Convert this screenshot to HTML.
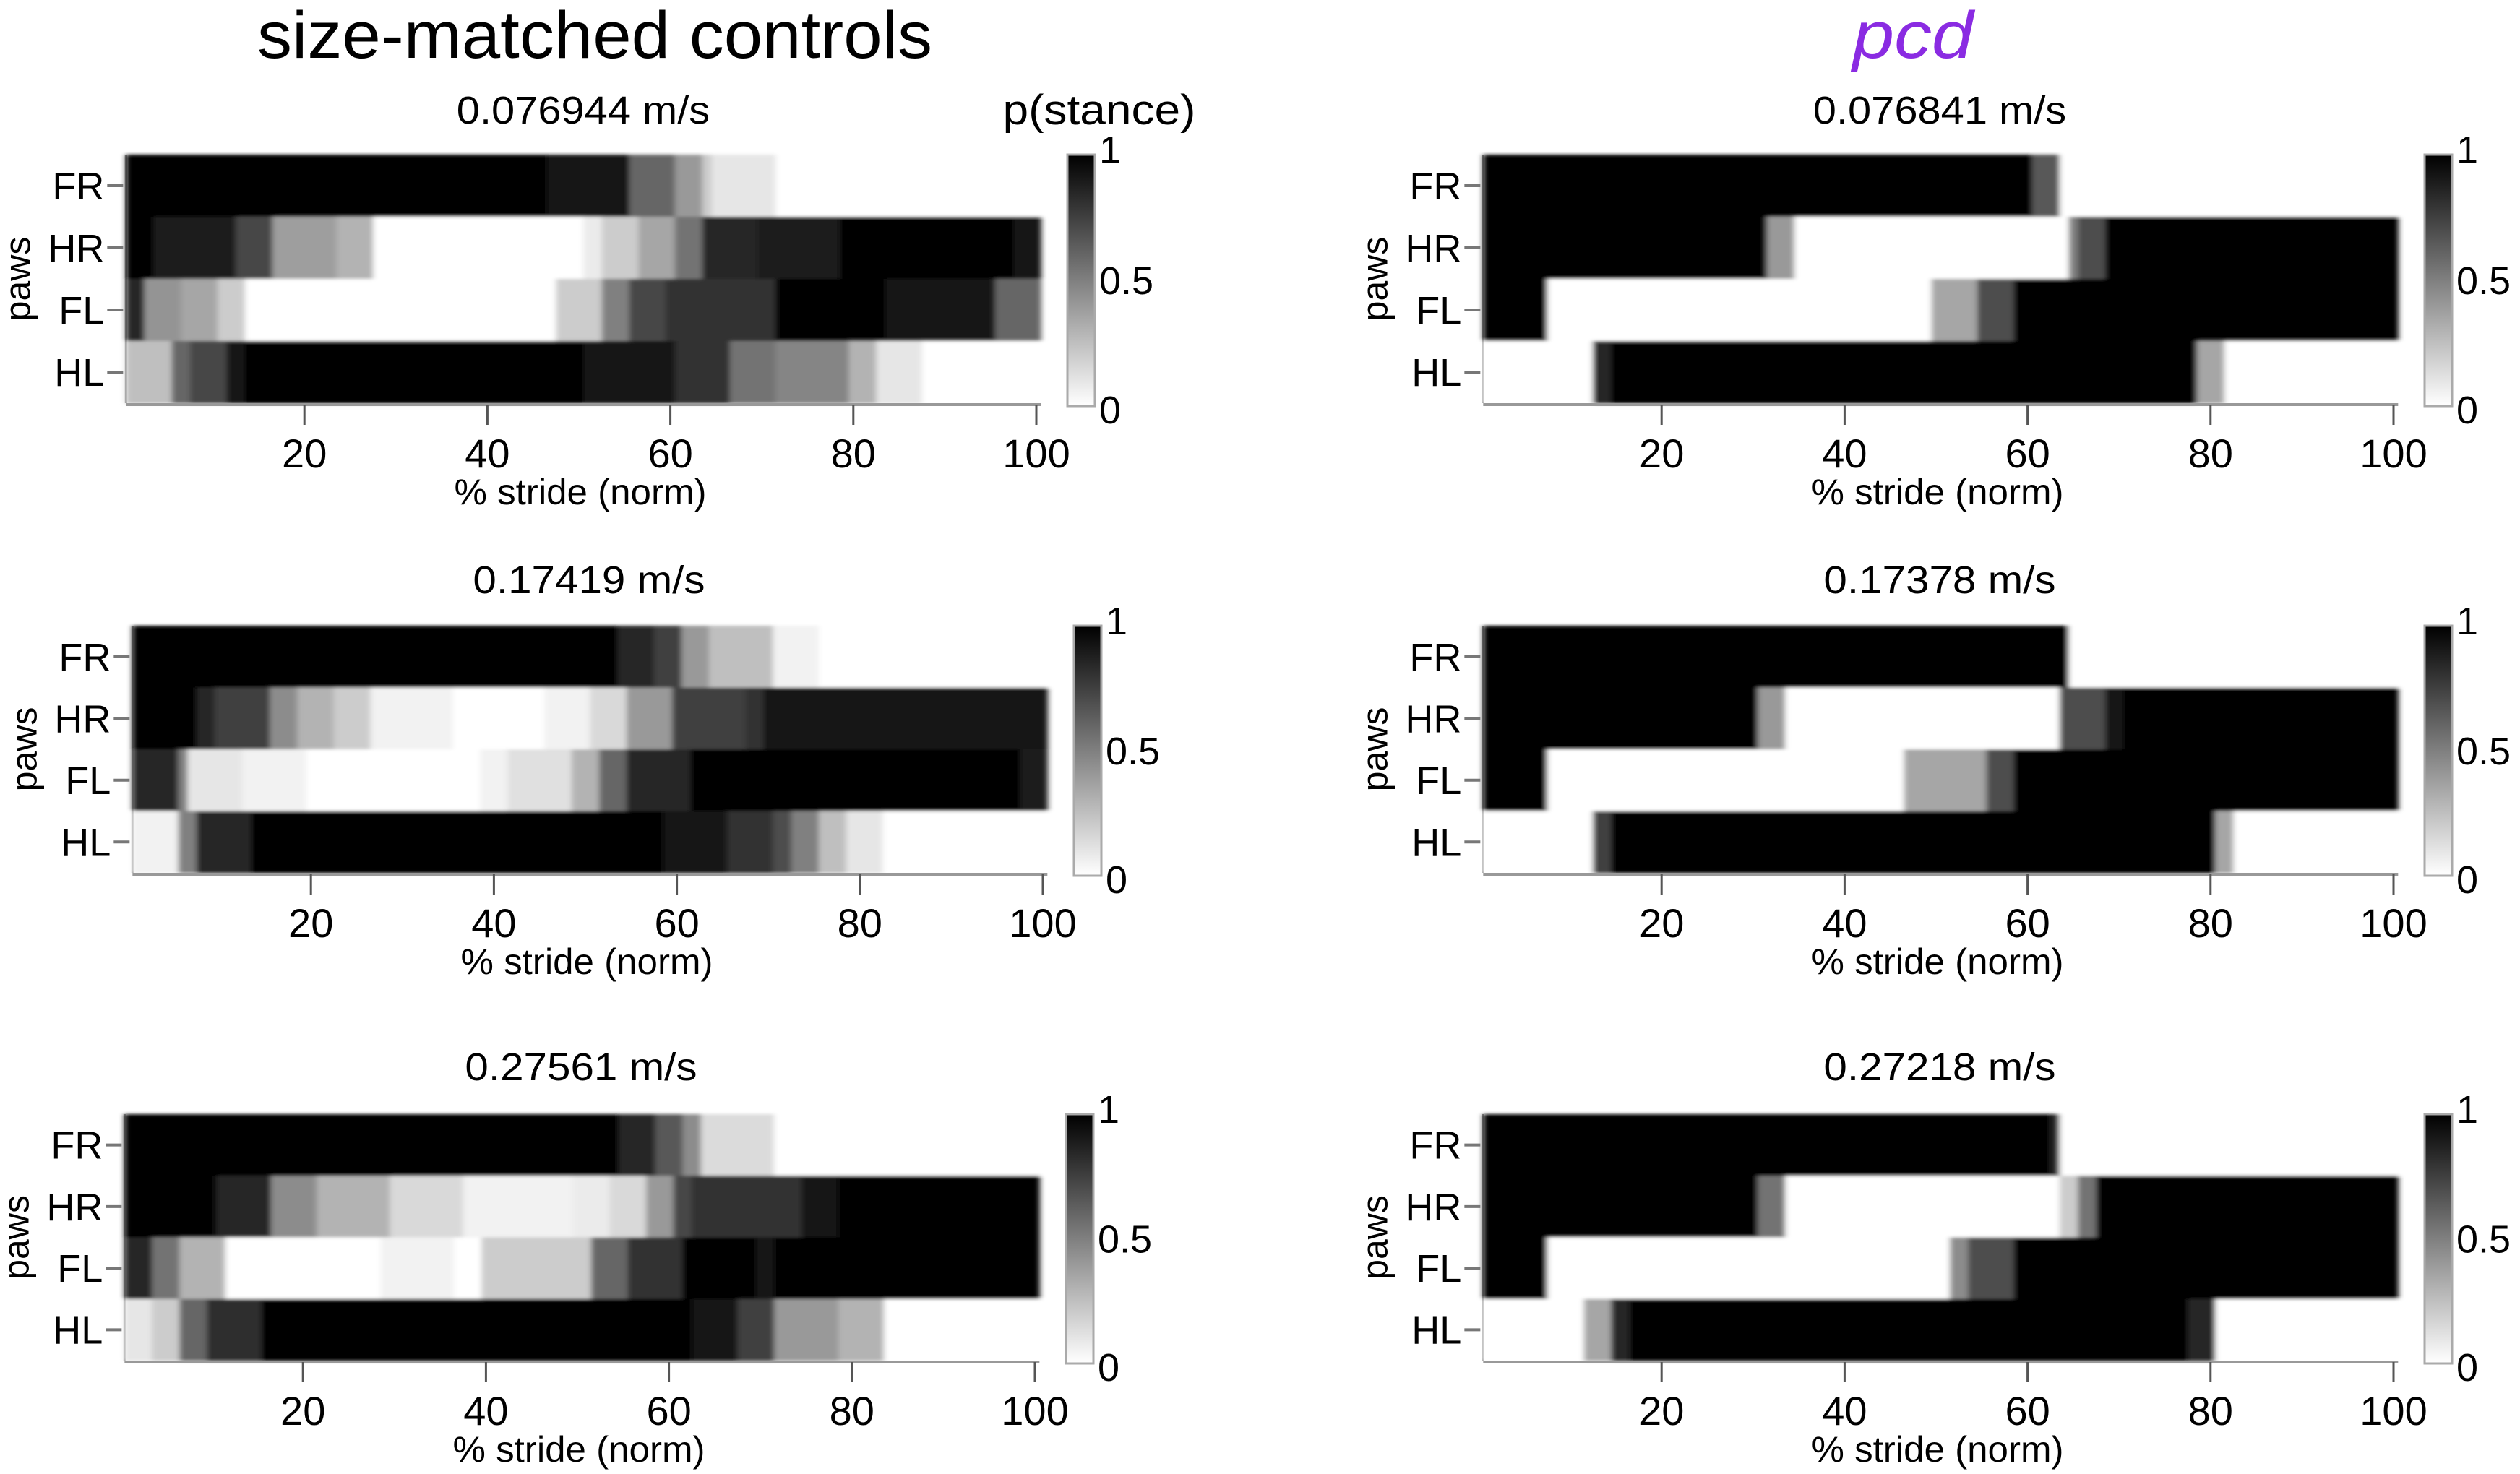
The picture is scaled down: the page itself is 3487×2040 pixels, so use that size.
<!DOCTYPE html>
<html><head><meta charset="utf-8"><style>
html,body{margin:0;padding:0;background:#fff;}
svg{display:block;font-family:"Liberation Sans",Arial,sans-serif;}
</style></head><body>
<svg id="fig" width="3487" height="2040" viewBox="0 0 3487 2040" xmlns="http://www.w3.org/2000/svg">
<defs><linearGradient id="cbar" x1="0" y1="1" x2="0" y2="0"><stop offset="0" stop-color="#fff"/><stop offset="1" stop-color="#000"/></linearGradient>
<filter id="soft" x="-2%" y="-5%" width="104%" height="110%"><feGaussianBlur stdDeviation="4 2"/></filter></defs>
<text x="823" y="80" font-size="92" text-anchor="middle" textLength="934" lengthAdjust="spacingAndGlyphs">size-matched controls</text>
<text x="2647" y="80" font-size="92" font-style="italic" fill="#8a2be2" text-anchor="middle" textLength="167" lengthAdjust="spacingAndGlyphs">pcd</text>
<text x="1521" y="172" font-size="58" text-anchor="middle" textLength="267" lengthAdjust="spacingAndGlyphs">p(stance)</text>
</svg>
<script>
const paws = ['FR','HR','FL','HL'];
const xTicks = [20,40,60,80,100];
const cbarTicks = ['1','0.5','0'];
const speeds = ['0.076944 m/s','0.17419 m/s','0.27561 m/s','0.076841 m/s','0.17378 m/s','0.27218 m/s'];
// segments: [fromCol, toCol, p(stance)]
const c1_FR = [[1,46,1],[47,55,0.92],[56,60,0.6],[61,63,0.4],[64,64,0.2],[65,71,0.1],[72,100,0]];
const c1_HR = [[1,3,1],[4,12,0.88],[13,16,0.72],[17,23,0.38],[24,27,0.3],[28,50,0],[51,52,0.08],[53,56,0.2],[57,60,0.35],[61,63,0.55],[64,69,0.85],[70,78,0.88],[79,97,1],[98,100,0.92]];
const c1_FL = [[1,2,0.85],[3,6,0.42],[7,10,0.35],[11,13,0.2],[14,47,0],[48,52,0.2],[53,55,0.5],[56,59,0.72],[60,71,0.8],[72,83,1],[84,95,0.92],[96,100,0.6]];
const c1_HL = [[1,5,0.25],[6,7,0.6],[8,11,0.72],[12,13,0.9],[14,50,1],[51,60,0.93],[61,66,0.8],[67,71,0.55],[72,79,0.48],[80,82,0.3],[83,87,0.1],[88,100,0]];
const c2_FR = [[1,53,1],[54,57,0.85],[58,60,0.75],[61,63,0.4],[64,70,0.25],[71,75,0.05],[76,100,0]];
const c2_HR = [[1,7,1],[8,9,0.85],[10,15,0.75],[16,18,0.45],[19,22,0.3],[23,26,0.2],[27,35,0.05],[36,45,0],[46,50,0.05],[51,54,0.15],[55,59,0.4],[60,67,0.75],[68,69,0.8],[70,100,0.9]];
const c2_FL = [[1,5,0.85],[6,6,0.5],[7,12,0.1],[13,19,0.05],[20,38,0],[39,41,0.05],[42,48,0.12],[49,51,0.3],[52,54,0.6],[55,61,0.85],[62,97,1],[98,100,0.88]];
const c2_HL = [[1,5,0.05],[6,7,0.5],[8,13,0.85],[14,58,1],[59,65,0.92],[66,70,0.8],[71,72,0.7],[73,75,0.5],[76,78,0.25],[79,82,0.1],[83,100,0]];
const c3_FR = [[1,54,1],[55,58,0.85],[59,61,0.65],[62,63,0.45],[64,71,0.14],[72,100,0]];
const c3_HR = [[1,10,1],[11,16,0.85],[17,21,0.45],[22,29,0.3],[30,37,0.15],[38,49,0.05],[50,53,0.08],[54,57,0.15],[58,60,0.4],[61,62,0.72],[63,74,0.8],[75,78,0.92],[79,100,1]];
const c3_FL = [[1,3,0.85],[4,6,0.55],[7,11,0.3],[12,28,0],[29,36,0.05],[37,39,0],[40,51,0.2],[52,55,0.6],[56,61,0.8],[62,69,1],[70,71,0.9],[72,100,1]];
const c3_HL = [[1,3,0.1],[4,6,0.2],[7,9,0.6],[10,15,0.82],[16,62,1],[63,67,0.92],[68,71,0.75],[72,78,0.4],[79,83,0.3],[84,100,0]];
const p1_FR = [[1,60,1],[61,63,0.65],[64,100,0]];
const p1_HR = [[1,31,1],[32,34,0.4],[35,64,0],[65,65,0.5],[66,68,0.7],[69,100,1]];
const p1_FL = [[1,7,1],[8,49,0],[50,54,0.35],[55,58,0.7],[59,100,1]];
const p1_HL = [[1,12,0],[13,14,0.85],[15,78,1],[79,81,0.35],[82,100,0]];
const p2_FR = [[1,64,1],[65,100,0]];
const p2_HR = [[1,30,1],[31,33,0.4],[34,63,0],[64,68,0.7],[69,70,0.9],[71,100,1]];
const p2_FL = [[1,7,1],[8,46,0],[47,55,0.35],[56,58,0.7],[59,100,1]];
const p2_HL = [[1,12,0],[13,14,0.75],[15,80,1],[81,82,0.35],[83,100,0]];
const p3_FR = [[1,62,1],[63,63,0.85],[64,100,0]];
const p3_HR = [[1,30,1],[31,33,0.55],[34,63,0],[64,65,0.2],[66,67,0.55],[68,100,1]];
const p3_FL = [[1,7,1],[8,51,0],[52,53,0.45],[54,58,0.7],[59,100,1]];
const p3_HL = [[1,11,0],[12,14,0.35],[15,16,0.85],[17,77,1],[78,80,0.85],[81,100,0]];

const panelData = [
  [c1_FR,c1_HR,c1_FL,c1_HL],[c2_FR,c2_HR,c2_FL,c2_HL],[c3_FR,c3_HR,c3_FL,c3_HL],
  [p1_FR,p1_HR,p1_FL,p1_HL],[p2_FR,p2_HR,p2_FL,p2_HL],[p3_FR,p3_HR,p3_FL,p3_HL]
];
const layout = [
  {x0:168, top:214, bot:558, cbx:1477, titleY:171, titleX:807},
  {x0:177, top:866, bot:1208, cbx:1486, titleY:821, titleX:815},
  {x0:166, top:1542, bot:1883, cbx:1475, titleY:1495, titleX:804},
  {x0:2046, top:214, bot:558, cbx:3355, titleY:171, titleX:2684},
  {x0:2046, top:866, bot:1208, cbx:3355, titleY:821, titleX:2684},
  {x0:2046, top:1542, bot:1883, cbx:3355, titleY:1495, titleX:2684}
];
const UNIT = 12.66;
const NS = 'http://www.w3.org/2000/svg';
const svg = document.getElementById('fig');
function mk(tag, attrs, parent){
  const e = document.createElementNS(NS, tag);
  for (const k in attrs) e.setAttribute(k, attrs[k]);
  (parent||svg).appendChild(e);
  return e;
}
function gray(v){ const g = Math.round(255*(1-Math.max(0,Math.min(1,v)))); return 'rgb('+g+','+g+','+g+')'; }

panelData.forEach((rows, pi) => {
  const L = layout[pi];
  const xs = v => L.x0 + v*UNIT;
  const rowH = (L.bot - L.top)/paws.length;
  const g = mk('g', {});
  
  
  const ax = mk('line', {x1:xs(0.5), x2:xs(0.5), y1:L.top, y2:L.bot, stroke:'#999', 'stroke-width':3}, g);
  
  
  const cg = mk('g', {filter:'url(#soft)'}, g);
  
  
  rows.forEach((segs, ri) => {
    const y = L.top + ri*rowH;
    segs.forEach(s => {
      const r = mk('rect', {x:xs(s[0]-0.5), y:y, width:xs(s[1]+0.5)-xs(s[0]-0.5)+0.6, height:rowH+0.6, fill:gray(s[2])}, cg);
      
      
    });
    const cy = y + rowH/2;
    const tk = mk('line', {x1:xs(0.5)-26, x2:xs(0.5)-4, y1:cy, y2:cy, stroke:'#777', 'stroke-width':4}, g);
    
    
    const lb = mk('text', {x:xs(0.5)-30, y:cy+19, 'font-size':54, 'text-anchor':'end'}, g);
    lb.textContent = paws[ri];
    
    
  });
  const xa = mk('line', {x1:xs(0.5), x2:xs(100.5), y1:L.bot+2, y2:L.bot+2, stroke:'#999', 'stroke-width':4}, g);
  
  
  xTicks.forEach(t => {
    const tl = mk('line', {x1:xs(t), x2:xs(t), y1:L.bot+2, y2:L.bot+30, stroke:'#555', 'stroke-width':3}, g);
    
    
    const tt = mk('text', {x:xs(t), y:L.bot+89, 'font-size':56, 'text-anchor':'middle'}, g);
    tt.textContent = t;
    
    
  });
  const xl = mk('text', {x:xs(50)+2, y:L.bot+140, 'font-size':50, 'text-anchor':'middle', textLength:349, lengthAdjust:'spacingAndGlyphs'}, g);
  xl.textContent = '% stride (norm)';
  
  
  const yl = mk('text', {x:0, y:0, 'font-size':50, 'text-anchor':'middle', transform:'translate('+(xs(0.5)-133)+','+(L.top+(L.bot-L.top)/2)+') rotate(-90)'}, g);
  yl.textContent = 'paws';
  
  
  const tt = mk('text', {x:L.titleX, y:L.titleY, 'font-size':54, 'text-anchor':'middle', textLength: speeds[pi].length*29.2, lengthAdjust:'spacingAndGlyphs'}, g);
  tt.textContent = speeds[pi];
  
  
  const cb = mk('rect', {x:L.cbx, y:L.top, width:38, height:L.bot-L.top+4, fill:'url(#cbar)', stroke:'#aaa', 'stroke-width':3}, g);
  
  
  cbarTicks.forEach((lab, i) => {
    const cy = L.top + i*(L.bot-L.top+4)/2;
    const ct = mk('text', {x:L.cbx+44, y:cy+(i===0?12:i===1?19:24), 'font-size':54}, g);
    ct.textContent = lab;
    
    
  });
});
</script>
</body></html>
